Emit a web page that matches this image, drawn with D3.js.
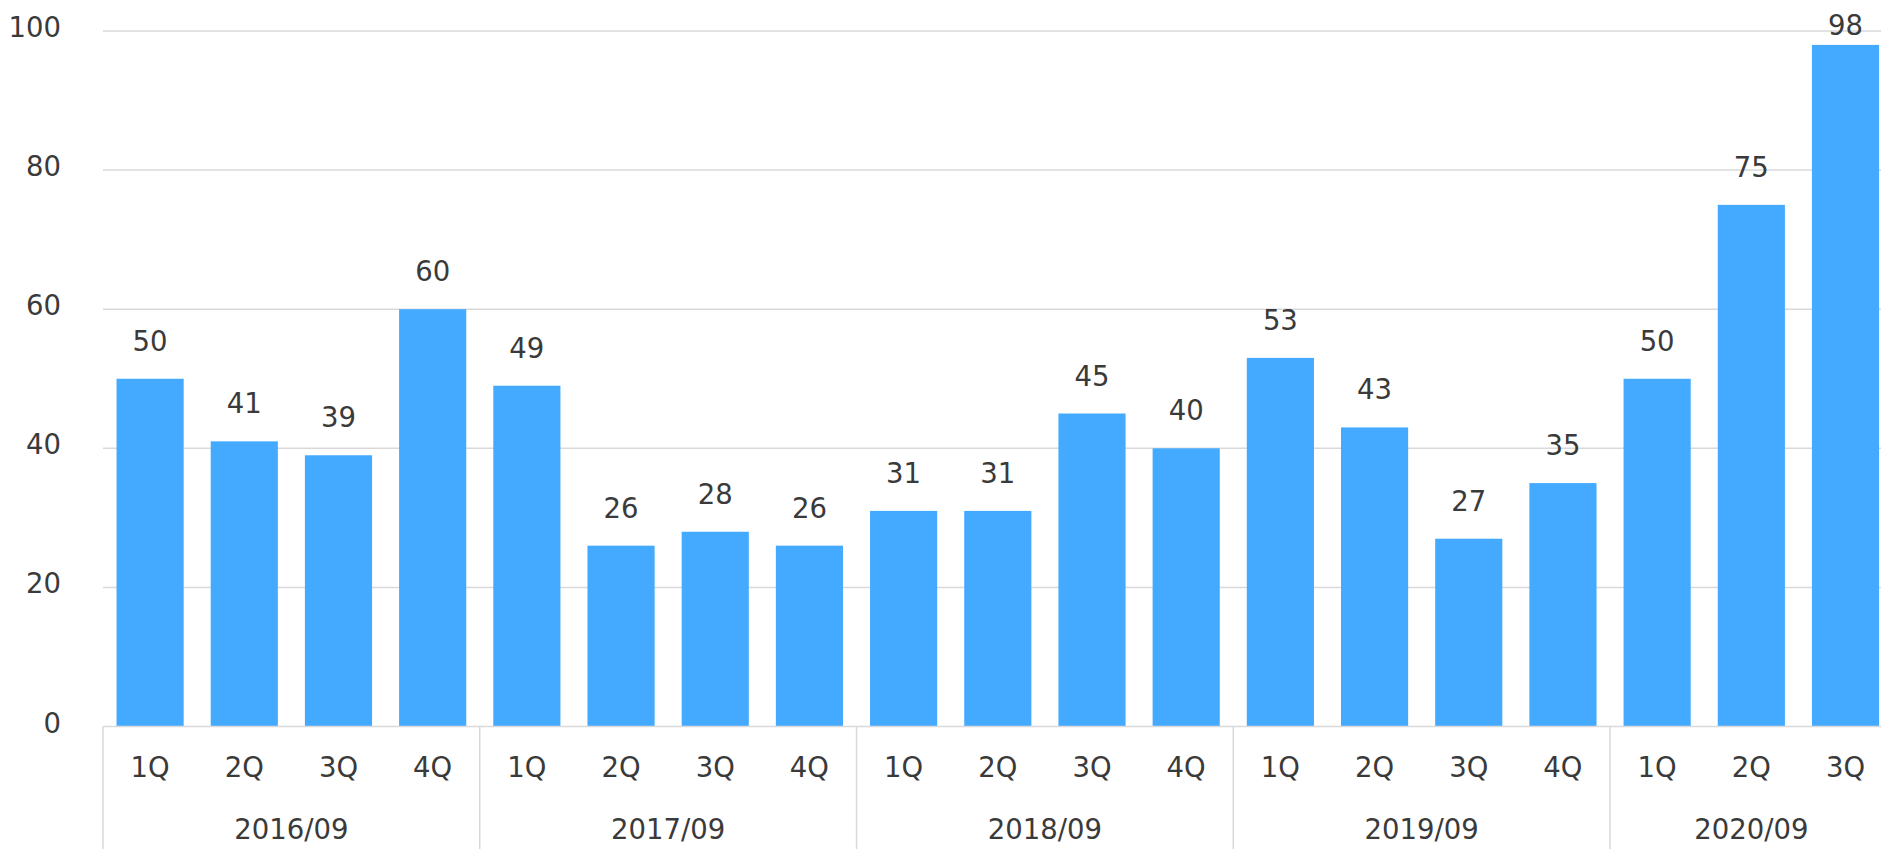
<!DOCTYPE html>
<html>
<head>
<meta charset="utf-8">
<script src="https://cdn.jsdelivr.net/npm/d3@7"></script>
<style>
  body { margin: 0; background: #fff; }
  svg { display: block; }
</style>
</head>
<body>
<svg id="chart" width="1881" height="849"></svg>
<script>
// data
var years = ["2016/09", "2017/09", "2018/09", "2019/09", "2020/09"];
var quarters = ["1Q", "2Q", "3Q", "4Q", "1Q", "2Q", "3Q", "4Q", "1Q", "2Q", "3Q", "4Q", "1Q", "2Q", "3Q", "4Q", "1Q", "2Q", "3Q"];
var yearOf = [0, 0, 0, 0, 1, 1, 1, 1, 2, 2, 2, 2, 3, 3, 3, 3, 4, 4, 4];
var values = [50, 41, 39, 60, 49, 26, 28, 26, 31, 31, 45, 40, 53, 43, 27, 35, 50, 75, 98];
var yTicks = [0, 20, 40, 60, 80, 100];

chart();

function chart() {
    var svg = d3.select("#chart");
    var W = 1881, H = 849;
    var left = 103, step = 94.19;
    var font = "'DejaVu Sans', Verdana, sans-serif";
    var fontSize = "27.5px";
    var textColor = "#3a3a3a";
    var gridColor = "#d9d9d9";

    var idx = d3.range(values.length);

    //x band, ends past the window edge like the original
    var x = d3.scaleBand()
        .domain(idx)
        .range([left, left + step * idx.length])
        .paddingInner(0.287)
        .paddingOuter(0.1435);

    var y = d3.scaleLinear()
        .domain([0, 100])
        .range([726.5, 31]);

    //gridlines
    svg.append("g")
        .selectAll("line")
        .data(yTicks.filter(function(d) { return d > 0; }))
        .enter()
        .append("line")
        .attr("x1", left)
        .attr("x2", W)
        .attr("y1", function(d) { return y(d); })
        .attr("y2", function(d) { return y(d); })
        .style("stroke", gridColor)
        .style("stroke-width", 1.5);

    //y labels
    svg.append("g")
        .selectAll("text")
        .data(yTicks)
        .enter()
        .append("text")
        .attr("x", 61)
        .attr("y", function(d) { return y(d) + 6; })
        .attr("text-anchor", "end")
        .style("font-family", font)
        .style("font-size", fontSize)
        .style("fill", textColor)
        .text(function(d) { return d; });

    //bars
    svg.append("g")
        .selectAll("rect")
        .data(idx)
        .enter()
        .append("rect")
        .attr("x", function(i) { return x(i); })
        .attr("y", function(i) { return y(values[i]); })
        .attr("width", x.bandwidth())
        .attr("height", function(i) { return y(0) - y(values[i]); })
        .style("fill", "#44aaff");

    //value labels, kept inside the top edge
    svg.append("g")
        .selectAll("text")
        .data(idx)
        .enter()
        .append("text")
        .attr("x", function(i) { return x(i) + x.bandwidth() / 2; })
        .attr("y", function(i) { return Math.max(y(values[i]) - 28, 35); })
        .attr("text-anchor", "middle")
        .style("font-family", font)
        .style("font-size", fontSize)
        .style("fill", textColor)
        .text(function(i) { return values[i]; });

    //x axis line
    svg.append("line")
        .attr("x1", left)
        .attr("x2", W)
        .attr("y1", y(0))
        .attr("y2", y(0))
        .style("stroke", gridColor)
        .style("stroke-width", 1.5);

    //group separators
    var starts = years.map(function(d, g) { return yearOf.indexOf(g); });
    var bounds = starts.concat([idx.length]);
    svg.append("g")
        .selectAll("line")
        .data(bounds)
        .enter()
        .append("line")
        .attr("x1", function(b) { return left + b * step; })
        .attr("x2", function(b) { return left + b * step; })
        .attr("y1", y(0))
        .attr("y2", H)
        .style("stroke", gridColor)
        .style("stroke-width", 1.5);

    //quarter labels
    svg.append("g")
        .selectAll("text")
        .data(idx)
        .enter()
        .append("text")
        .attr("x", function(i) { return left + (i + 0.5) * step; })
        .attr("y", 777)
        .attr("text-anchor", "middle")
        .style("font-family", font)
        .style("font-size", fontSize)
        .style("fill", textColor)
        .text(function(i) { return quarters[i]; });

    //year labels
    svg.append("g")
        .selectAll("text")
        .data(years)
        .enter()
        .append("text")
        .attr("x", function(d, g) { return left + (bounds[g] + bounds[g + 1]) / 2 * step; })
        .attr("y", 839)
        .attr("text-anchor", "middle")
        .style("font-family", font)
        .style("font-size", fontSize)
        .style("fill", textColor)
        .text(function(d) { return d; });
}
</script>
</body>
</html>
